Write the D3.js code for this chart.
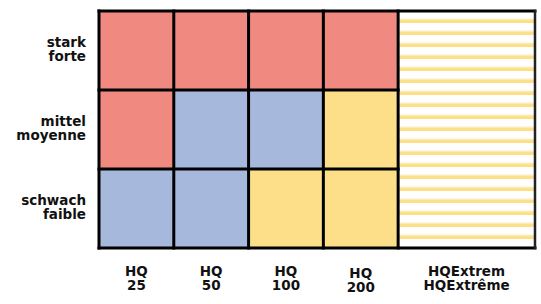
<!DOCTYPE html>
<html>
<head>
<meta charset="utf-8">
<script src="https://cdn.jsdelivr.net/npm/d3@7"></script>
<style>
  body { margin: 0; background: #fff; }
  text { font-family: "DejaVu Sans", sans-serif; font-weight: bold; font-size: 13.5px; fill: #111; }
</style>
</head>
<body>
<script>
// return periods (columns) and intensity (rows)
var periods = ["HQ|25", "HQ|50", "HQ|100", "HQ|200", "HQExtrem|HQExtrême"];
var periodWeights = [1, 1, 1, 1, 1.83];
var intensities = ["stark|forte", "mittel|moyenne", "schwach|faible"];

// hazard level per cell, row by row
var starkLevels   = ["hoch", "hoch", "hoch", "hoch", "rest"];
var mittelLevels  = ["hoch", "mittel", "mittel", "gering", "rest"];
var schwachLevels = ["mittel", "mittel", "gering", "gering", "rest"];

var levelColors = {hoch: "#f08a80", mittel: "#a6b9dc", gering: "#fddf8a", rest: "url(#stripes)"};

var W = 541, H = 304,
    margin = {top: 11, right: 6, bottom: 56, left: 99},
    width = W - margin.left - margin.right,
    height = H - margin.top - margin.bottom;

var svg = d3.select("body")
    .append("svg")
    .attr("width", W)
    .attr("height", H);

var defs = svg.append("defs");
var pat = defs.append("pattern")
    .attr("id", "stripes")
    .attr("patternUnits", "userSpaceOnUse")
    .attr("width", 20)
    .attr("height", 12);
pat.append("rect").attr("width", 20).attr("height", 12).attr("fill", "#fff");
pat.append("rect").attr("y", 7.5).attr("width", 20).attr("height", 1).attr("fill", "#fef0c6");
pat.append("rect").attr("y", 8.5).attr("width", 20).attr("height", 3.5).attr("fill", "#fddf8a");

var g = svg.append("g")
    .attr("transform", "translate(" + margin.left + "," + margin.top + ")");

// x: cumulative weights -> pixels
var cum = [0];
periodWeights.forEach(function(w, i) { cum.push(cum[i] + w); });
var x = d3.scaleLinear().domain([0, cum[cum.length - 1]]).range([0, width]);

var y = d3.scaleBand().domain(intensities).range([0, height]);

var rows = [starkLevels, mittelLevels, schwachLevels];
var cells = [];
rows.forEach(function(levels, r) {
    levels.forEach(function(lv, c) {
        cells.push({row: intensities[r], col: c, level: lv});
    });
});

g.selectAll(".cell")
    .data(cells)
    .enter()
    .append("rect")
    .attr("class", "cell")
    .attr("x", function(d) { return x(cum[d.col]); })
    .attr("y", function(d) { return y(d.row); })
    .attr("width", function(d) { return x(cum[d.col + 1]) - x(cum[d.col]); })
    .attr("height", y.bandwidth())
    .attr("fill", function(d) { return levelColors[d.level]; });

// grid lines
var lines = g.append("g")
    .attr("stroke", "#000")
    .attr("stroke-width", 3)
    .attr("stroke-linecap", "square");

// horizontal lines across the first four columns, top and bottom full width
intensities.forEach(function(d, i) {
    var yy = y(d);
    lines.append("line")
        .attr("x1", 0)
        .attr("x2", i == 0 ? width : x(cum[4]))
        .attr("y1", yy).attr("y2", yy);
});
lines.append("line")
    .attr("x1", 0).attr("x2", width)
    .attr("y1", height).attr("y2", height);

cum.forEach(function(c, i) {
    lines.append("line")
        .attr("x1", x(c)).attr("x2", x(c))
        .attr("y1", 0).attr("y2", height)
        .attr("stroke", i == cum.length - 1 ? "#222" : null)
        .attr("stroke-width", i == cum.length - 1 ? 2.5 : null);
});

// row labels
g.selectAll(".rowlabel")
    .data(intensities)
    .enter()
    .append("text")
    .attr("class", "rowlabel")
    .attr("text-anchor", "end")
    .attr("x", -13)
    .attr("y", function(d) { return y(d) + y.bandwidth() / 2 - 3.5; })
    .each(function(d) {
        var t = d3.select(this), parts = d.split("|");
        parts.forEach(function(p, i) {
            t.append("tspan").attr("x", -13).attr("dy", i == 0 ? 0 : 13.5).text(p);
        });
    });

// column labels
g.selectAll(".collabel")
    .data(periods)
    .enter()
    .append("text")
    .attr("class", "collabel")
    .attr("text-anchor", "middle")
    .attr("y", function(d, i) { return height + (i == 3 ? 30 : 28); })
    .each(function(d, i) {
        var t = d3.select(this), parts = d.split("|"),
            cx = x((cum[i] + cum[i + 1]) / 2);
        parts.forEach(function(p, j) {
            t.append("tspan").attr("x", cx).attr("dy", j == 0 ? 0 : 14).text(p);
        });
    });
</script>
</body>
</html>
